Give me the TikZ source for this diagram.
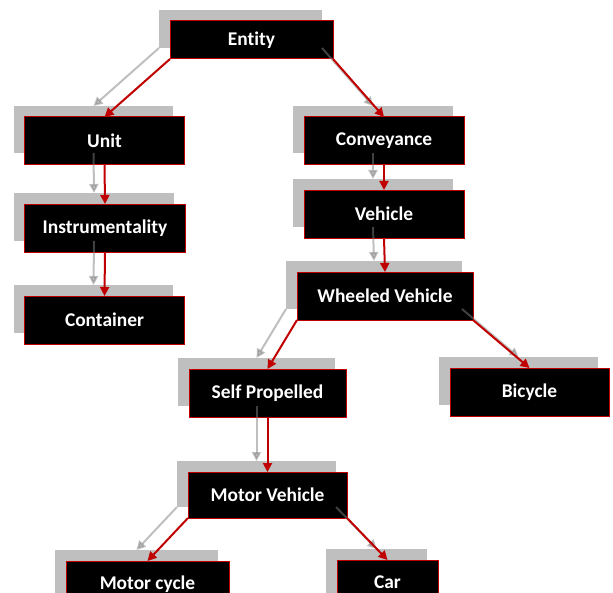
\documentclass[tikz,border=0pt]{standalone}
\usepackage{fontspec}
\setmainfont[Ligatures=NoCommon]{Carlito}
\usetikzlibrary{arrows.meta}
\definecolor{boxred}{HTML}{C00000}
\definecolor{shadowgray}{HTML}{BFBFBF}
\tikzset{
  shadowbox/.style={fill=shadowgray, draw=none, inner sep=0pt, outer sep=0pt},
  mainbox/.style={fill=black, draw=boxred, line width=1bp, text=white,
    font=\fontsize{19.5}{21}\selectfont\bfseries, inner sep=0pt, outer sep=0pt},
  grayarrow/.style={draw=gray, draw opacity=0.5, fill opacity=0.5, line width=2bp,
    -{Triangle[length=9bp,width=9bp,fill=gray]}},
  redarrow/.style={draw=boxred, line width=2bp, -{Triangle[length=9bp,width=9bp]}},
}
\newcommand{\tbox}[6]{%
  \node[shadowbox, minimum width=#4bp, minimum height=#5bp] (s#1) at (#2-11,#3-11) {};
  \node[mainbox, minimum width=#4bp, minimum height=#5bp] (#1) at (#2,#3) {#6};
}
\begin{document}
\begin{tikzpicture}[x=1bp,y=-1bp]
\useasboundingbox (0,0) rectangle (613,593);
\tbox{entity}{251.5}{40}{163}{38}{Entity}
\tbox{unit}{104.5}{140.5}{159}{47}{Unit}
\tbox{conv}{384}{140.5}{160}{47}{Conveyance}
\tbox{instr}{105}{228}{160}{48}{Instrumentality}
\tbox{vehicle}{384}{214}{160}{48}{Vehicle}
\tbox{container}{104.5}{320}{159}{48}{Container}
\tbox{wheeled}{385}{296}{176}{48}{Wheeled Vehicle}
\tbox{selfprop}{267.5}{393}{157}{48}{Self Propelled}
\tbox{bicycle}{529.5}{392}{159}{48}{Bicycle}
\tbox{motorveh}{267.5}{495}{159}{46}{Motor Vehicle}
\tbox{motorcycle}{147.5}{584.5}{163}{47}{\raisebox{4.5bp}{Motor cycle}}
\tbox{car}{387.5}{583.5}{101}{47}{\raisebox{3bp}{Car}}
% gray connectors between shadows
\draw[grayarrow] (sentity.south west) -- (sunit.north);
\draw[grayarrow] (sentity.south east) -- (sconv.north);
\draw[grayarrow] (sunit.south) -- (sinstr.north);
\draw[grayarrow] (sinstr.south) -- (scontainer.north);
\draw[grayarrow] (sconv.south) -- (svehicle.north);
\draw[grayarrow] (svehicle.south) -- (swheeled.north);
\draw[grayarrow] (swheeled.south west) -- (sselfprop.north);
\draw[grayarrow] (swheeled.south east) -- (sbicycle.north);
\draw[grayarrow] (sselfprop.south) -- (smotorveh.north);
\draw[grayarrow] (smotorveh.south west) -- (smotorcycle.north);
\draw[grayarrow] (smotorveh.south east) -- (scar.north);
% red connectors between boxes
\draw[redarrow] (entity.south west) -- (unit.north);
\draw[redarrow] (entity.south east) -- (conv.north);
\draw[redarrow] (unit.south) -- (instr.north);
\draw[redarrow] (instr.south) -- (container.north);
\draw[redarrow] (conv.south) -- (vehicle.north);
\draw[redarrow] (vehicle.south) -- (wheeled.north);
\draw[redarrow] (wheeled.south west) -- (selfprop.north);
\draw[redarrow] (wheeled.south east) -- (bicycle.north);
\draw[redarrow] (selfprop.south) -- (motorveh.north);
\draw[redarrow] (motorveh.south west) -- (motorcycle.north);
\draw[redarrow] (motorveh.south east) -- (car.north);
\end{tikzpicture}
\end{document}
